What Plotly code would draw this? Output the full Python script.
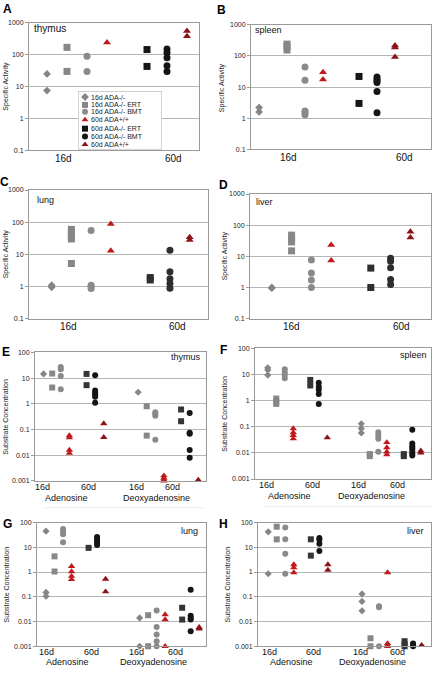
import plotly.graph_objects as go

# ---------------- data ----------------
GROUP_LABELS = ["16d ADA-/-", "16d ADA-/- ERT", "16d ADA-/- BMT", "60d ADA+/+",
                "60d ADA-/- ERT", "60d ADA-/- BMT", "60d ADA+/+"]
Y_TICKS_ACT = [0.1, 1, 10, 100, 1000]
Y_TICKTEXT_ACT = ["0.1", "1", "10", "100", "1000"]
Y_TICKS_SUB = [0.001, 0.01, 0.1, 1, 10, 100]
Y_TICKTEXT_SUB = ["0.001", "0.01", "0.1", "1", "10", "100"]
DAY_LABELS = ["16d", "60d"]
SUBSTRATES = ["Adenosine", "Deoxyadenosine"]

# Specific activity (panels A-D), one list per group
A_thymus_activity = [[25, 7.5], [170, 30], [90, 30], [240], [145, 43],
                     [150, 115, 80, 45, 30], [550, 380]]
B_spleen_activity = [[2.2, 1.6], [240, 200, 155], [44, 16.5, 1.7, 1.5, 1.3], [30, 17.5],
                     [22, 3], [21, 18, 16, 14, 7.3, 1.5], [215, 185, 92]]
C_lung_activity = [[1.1, 0.95], [60, 48, 38, 30, 5.2], [55, 1.1, 1.0, 0.87], [88, 13],
                   [1.9, 1.6], [13.5, 2.9, 1.75, 1.25, 0.88], [34, 28]]
D_liver_activity = [[1.0, 0.95], [48, 37, 29, 15], [7.6, 2.9, 1.75, 1.0], [23, 7.3],
                    [4.2, 1.0], [8.7, 7, 4.3, 1.8, 1.25], [62, 40]]

# Substrate concentration (panels E-H): adenosine and deoxyadenosine
E_thymus_ado = [[14.5], [15, 4.3], [27, 22, 12, 3.7], [0.058, 0.048, 0.016, 0.012],
                [14.5, 5.3], [13, 3.3, 2.7, 2.3, 1.9, 1.1], [0.17, 0.05]]
E_thymus_dado = [[2.8], [0.8, 0.058], [0.47, 0.4, 0.34, 0.04], [0.0016, 0.0013, 0.0011, 0.001],
                 [0.6, 0.21], [0.44, 0.075, 0.068, 0.016, 0.008], [0.0011]]
F_spleen_ado = [[18, 15, 9.5], [1.2, 0.95, 0.75], [16, 12, 9.5, 7.2], [0.085, 0.06, 0.047, 0.035],
                [6.2, 3.8], [4.8, 3.4, 2.6, 1.8, 0.75], [0.038]]
F_spleen_dado = [[0.13, 0.085, 0.058], [0.009, 0.0075], [0.062, 0.047, 0.035, 0.011],
                 [0.025, 0.016, 0.011, 0.0085], [0.009, 0.0075],
                 [0.077, 0.023, 0.018, 0.015, 0.012, 0.0095, 0.008], [0.012, 0.01]]
G_lung_ado = [[45, 0.15, 0.105], [4.3, 1.05], [55, 43, 34, 16], [1.7, 1.05, 0.68, 0.5],
              [9.5], [26, 22, 18, 15, 12.5], [0.52, 0.16]]
G_lung_dado = [[0.014, 0.001], [0.018, 0.001], [0.028, 0.006, 0.003, 0.0016, 0.001],
               [0.019, 0.012, 0.001], [0.036, 0.012], [0.19, 0.017, 0.014, 0.012, 0.004],
               [0.0058, 0.005]]
H_liver_ado = [[42, 0.85], [68, 21], [63, 21, 5.5, 0.85], [2.0, 1.5, 0.95], [21, 4.6],
               [24, 20, 14, 7], [2.0, 1.2]]
H_liver_dado = [[0.13, 0.065, 0.027], [0.0021, 0.001], [0.041, 0.038, 0.001],
                [0.95, 0.0013, 0.0011, 0.001], [0.0016, 0.0012, 0.001],
                [0.0013, 0.0011, 0.001], [0.0011]]

# ---------------- styles ----------------
W, H = 432, 673
FONT = "Liberation Sans, Arial, sans-serif"
GRAY = "#858585"
SYMBOLS = ["diamond", "square", "circle", "triangle-up", "square", "circle", "triangle-up"]
COLORS = [GRAY, "#878787", "#8a8a8a", "#c0191b", "#151515", "#151515", "#8b1216"]
DARK_CD = "#2e2e2e"


def fx(px):
    return px / W


def fy(py):
    return 1 - py / H


fig = go.Figure()
layout = {}
annotations = []
shapes = []

act_slots = [1, 2, 3, 4, 6, 7, 8]
sub_slots = [1, 2, 3, 4, 6, 7, 8, 12, 13, 14, 15, 17, 18, 19]

panels = [
    dict(letter="A", tissue="thymus", kind="act", data=A_thymus_activity, box=(29, 199, 19, 148),
         xr=[0.1, 8.6], slots=act_slots, days=[1.8, 7.3], tis_xy=(32, 25, "left"), tis_size=10,
         let_xy=(7, 5), ytitle_x=6),
    dict(letter="B", tissue="spleen", kind="act", data=B_spleen_activity, box=(251, 431, 21, 147),
         xr=[0, 10], slots=[0.45, 2, 3, 4, 6, 7, 8], days=[2.06, 8.5], tis_xy=(253, 26, "left"),
         tis_size=9, let_xy=(222, 6), ytitle_x=222),
    dict(letter="C", tissue="lung", kind="act", data=C_lung_activity, box=(29, 208, 188, 318),
         xr=[-0.15, 8.93], slots=act_slots, days=[1.83, 7.36], tis_xy=(35, 198, "left"),
         tis_size=9, let_xy=(4, 180), ytitle_x=6),
    dict(letter="D", tissue="liver", kind="act", data=D_liver_activity, box=(250, 431, 192, 318),
         xr=[-0.1, 9.04], slots=act_slots, days=[2.02, 7.53], tis_xy=(254, 200, "left"),
         tis_size=9, let_xy=(223, 183), ytitle_x=225),
    dict(letter="E", tissue="thymus", kind="sub", data=E_thymus_ado + E_thymus_dado,
         box=(35, 206, 352, 482), xr=[0, 19.9], slots=sub_slots, days=[0.9, 6.2, 11.8, 16.0],
         subs=[3.7, 14.1], tis_xy=(203, 357, "right"), tis_size=9, let_xy=(6, 352), ytitle_x=6),
    dict(letter="F", tissue="spleen", kind="sub", data=F_spleen_ado + F_spleen_dado,
         box=(255, 431, 348, 480), xr=[-0.5, 20.2], slots=sub_slots, days=[0.8, 6.3, 11.7, 16.3],
         subs=[3.5, 13.2], tis_xy=(429, 355, "right"), tis_size=9, let_xy=(223, 350),
         ytitle_x=225),
    dict(letter="G", tissue="lung", kind="sub", data=G_lung_ado + G_lung_dado,
         box=(37, 206, 524, 649), xr=[-0.06, 19.8], slots=sub_slots, days=[1.1, 6.4, 11.6, 16.2],
         subs=[3.5, 13.6], tis_xy=(200, 533, "right"), tis_size=9, let_xy=(7, 525), ytitle_x=6),
    dict(letter="H", tissue="liver", kind="sub", data=H_liver_ado + H_liver_dado,
         box=(258, 431, 524, 649), xr=[-0.2, 20.1], slots=sub_slots, days=[1.1, 6.3, 11.8, 16.2],
         subs=[3.7, 13.2], tis_xy=(426, 533, "right"), tis_size=9, let_xy=(223, 525),
         ytitle_x=227),
]

for i, p in enumerate(panels):
    n = i + 1
    xa = "xaxis" if n == 1 else f"xaxis{n}"
    ya = "yaxis" if n == 1 else f"yaxis{n}"
    xref = "x" if n == 1 else f"x{n}"
    yref = "y" if n == 1 else f"y{n}"
    x0, x1, y0, y1 = p["box"]
    act = p["kind"] == "act"
    layout[xa] = dict(domain=[fx(x0), fx(x1)], range=p["xr"], anchor=yref,
                      showgrid=False, zeroline=False, showticklabels=False, ticks="",
                      showline=True, linecolor="#9a9a9a", linewidth=1, mirror=True,
                      fixedrange=True)
    layout[ya] = dict(domain=[fy(y1), fy(y0)], type="log",
                      range=[-1, 3] if act else [-3, 2], anchor=xref,
                      tickvals=Y_TICKS_ACT if act else Y_TICKS_SUB,
                      ticktext=Y_TICKTEXT_ACT if act else Y_TICKTEXT_SUB,
                      tickfont=dict(size=7, family=FONT, color="#222"),
                      ticks="outside", ticklen=3, tickcolor="#9a9a9a",
                      showgrid=True, gridcolor="#b5b5b5", gridwidth=1, zeroline=False,
                      showline=True, linecolor="#9a9a9a", linewidth=1, mirror=True,
                      fixedrange=True)
    for g, vals in enumerate(p["data"]):
        gi = g % 7
        col = COLORS[gi]
        if p["letter"] in ("C", "D") and gi in (4, 5):
            col = DARK_CD
        if not act and gi == 4:
            col = "#353535"
        sym = SYMBOLS[gi]
        size = (7 if act else 6)
        if sym == "diamond":
            size = 6 if act else 5.5
        if sym == "triangle-up":
            size = 7 if act else 6.5
        fig.add_trace(go.Scatter(
            x=[p["slots"][g]] * len(vals), y=vals, mode="markers",
            xaxis=xref, yaxis=yref, cliponaxis=False, showlegend=False,
            marker=dict(symbol=sym, size=size, color=col, line=dict(width=0)),
            hoverinfo="y"))
    # x category labels
    if act:
        for d, xv in zip(DAY_LABELS, p["days"]):
            annotations.append(dict(x=xv, y=fy(y1 + 8), xref=xref, yref="paper",
                                    yanchor="middle", text=d, showarrow=False,
                                    font=dict(size=10, family=FONT, color="#111")))
    else:
        for k, xv in enumerate(p["days"]):
            annotations.append(dict(x=xv, y=fy(y1 + 6), xref=xref, yref="paper",
                                    text=DAY_LABELS[k % 2], showarrow=False, yanchor="middle",
                                    font=dict(size=9, family=FONT, color="#111")))
        for s, xv in zip(SUBSTRATES, p["subs"]):
            annotations.append(dict(x=xv, y=fy(min(y1 + 17, 665)), xref=xref, yref="paper",
                                    text=s, showarrow=False, yanchor="middle",
                                    font=dict(size=9, family=FONT, color="#111")))
    # panel letter
    lx, ly = p["let_xy"]
    annotations.append(dict(x=fx(lx), y=fy(ly), xref="paper", yref="paper",
                            text=f"<b>{p['letter']}</b>",
                            showarrow=False, xanchor="center", yanchor="middle",
                            font=dict(size=12, family=FONT, color="#000")))
    # tissue label
    tx, ty, al = p["tis_xy"]
    annotations.append(dict(x=fx(tx), y=fy(ty), xref="paper", yref="paper", text=p["tissue"],
                            showarrow=False, xanchor=al, yanchor="middle",
                            font=dict(size=p["tis_size"], family=FONT, color="#111")))
    # y title
    annotations.append(dict(x=fx(p["ytitle_x"]), y=fy((y0 + y1) / 2), xref="paper", yref="paper",
                            text="Specific Activity" if act else "Substrate Concentration",
                            textangle=-90, showarrow=False, xanchor="center", yanchor="middle",
                            font=dict(size=7, family=FONT, color="#222")))

# legend in panel A (drawn on a hidden helper axis)
LX0, LX1, LY0, LY1 = 78, 162, 88, 147
layout["xaxis9"] = dict(domain=[fx(LX0), fx(LX1)], range=[LX0, LX1], visible=False,
                        anchor="y9", fixedrange=True)
layout["yaxis9"] = dict(domain=[fy(LY1), fy(LY0)], range=[LY1, LY0], visible=False,
                        anchor="x9", fixedrange=True)
shapes.append(dict(type="rect", xref="x9", yref="y9", x0=LX0, x1=LX1,
                   y0=LY1, y1=LY0, line=dict(color="#aaaaaa", width=1),
                   fillcolor="white", layer="between"))
row_y = [94, 102, 109, 117, 126, 134, 142]
for gi, lab in enumerate(GROUP_LABELS):
    fig.add_trace(go.Scatter(x=[85], y=[row_y[gi]], xaxis="x9", yaxis="y9", mode="markers",
                             cliponaxis=False, showlegend=False, hoverinfo="skip",
                             marker=dict(symbol=SYMBOLS[gi], size=6, color=COLORS[gi])))
    annotations.append(dict(x=fx(89), y=fy(row_y[gi]), xref="paper", yref="paper", text=lab,
                            showarrow=False, xanchor="left", yanchor="middle",
                            font=dict(size=7, family=FONT, color="#222")))

# faint separators under panels E and F
shapes.append(dict(type="line", xref="paper", yref="paper", x0=fx(43), x1=fx(205),
                   y0=fy(509), y1=fy(509), line=dict(color="#ececec", width=1)))
shapes.append(dict(type="line", xref="paper", yref="paper", x0=fx(264), x1=fx(431),
                   y0=fy(508), y1=fy(508), line=dict(color="#ececec", width=1)))

fig.update_layout(width=W, height=H, margin=dict(l=0, r=0, t=0, b=0),
                  paper_bgcolor="white", plot_bgcolor="white", showlegend=False,
                  annotations=annotations, shapes=shapes, **layout)

fig.write_html("out.html", config={"displayModeBar": False},
               post_script="document.body.style.margin='0';document.body.style.padding='0';")
